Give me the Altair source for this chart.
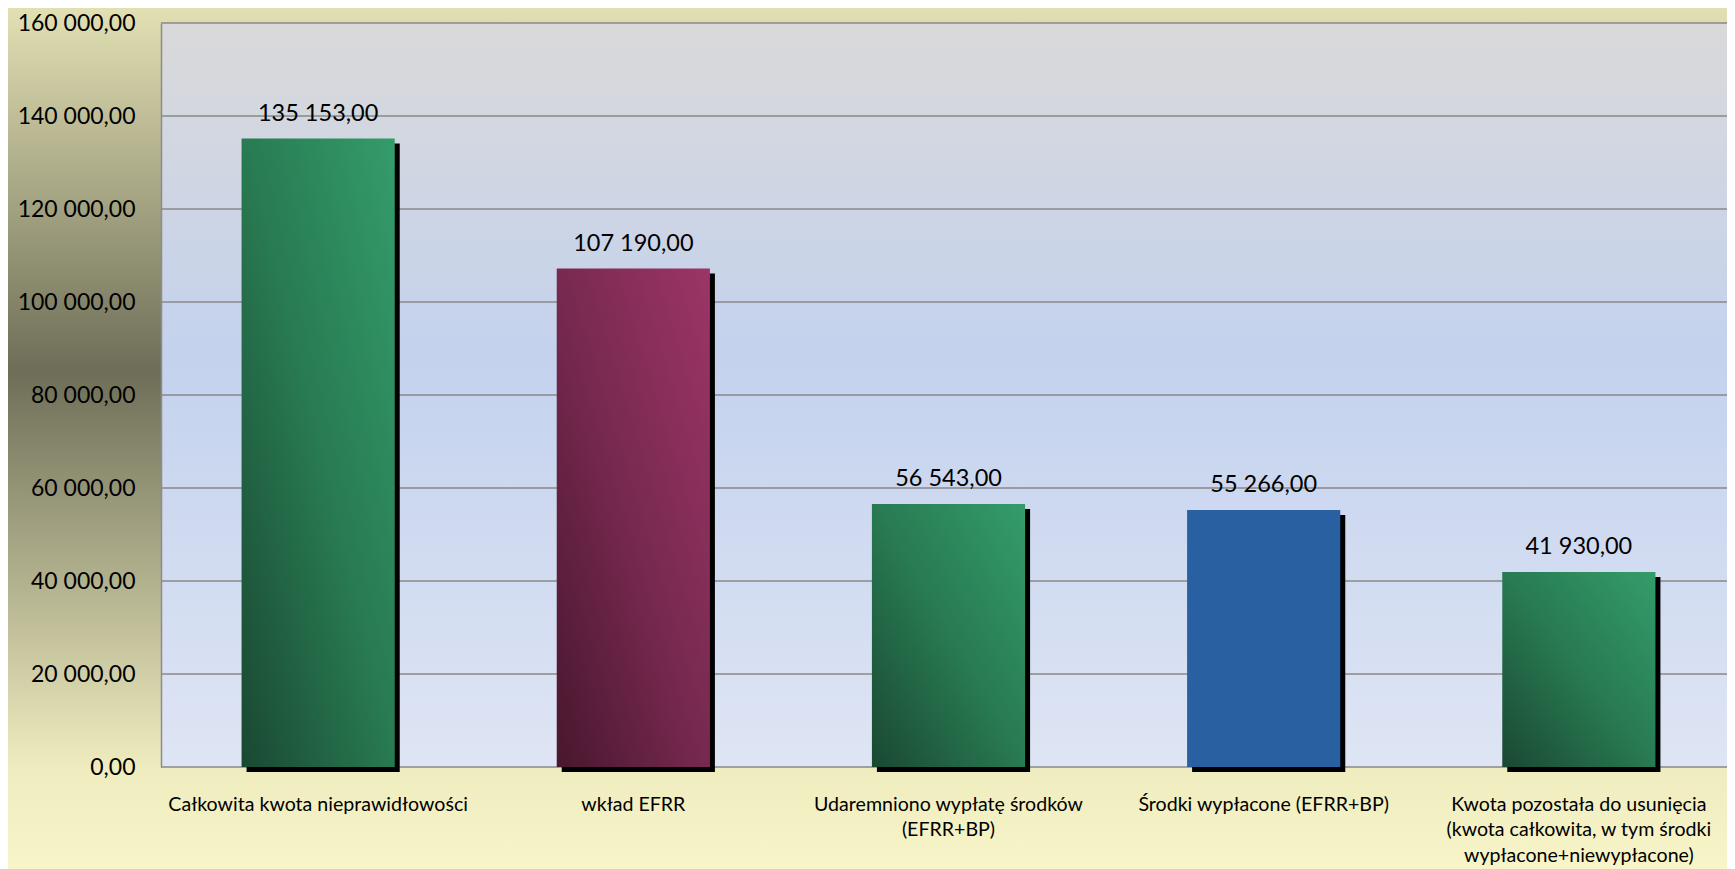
import altair as alt
import pandas as pd

# ---- data ----
categories = [
    "Całkowita kwota nieprawidłowości",
    "wkład EFRR",
    "Udaremniono wypłatę środków\n(EFRR+BP)",
    "Środki wypłacone (EFRR+BP)",
    "Kwota pozostała do usunięcia\n(kwota całkowita, w tym środki\nwypłacone+niewypłacone)",
]
values = [135153, 107190, 56543, 55266, 41930]
fill_keys = ["green", "purple", "green", "blue", "green"]
y_ticks = [0, 20000, 40000, 60000, 80000, 100000, 120000, 140000, 160000]

# ---- layout ----
W, H = 1566, 744
PAD_L, PAD_T, PAD_B = 153, 15, 106

df = pd.DataFrame({"category": categories, "value": values, "fill": fill_keys})
grid_df = pd.DataFrame({"value": y_ticks})
one = pd.DataFrame({"k": [0]})

fmt = "replace(replace(format(datum.value, ',.2f'), ',', ' '), '.', ',')"


def grad(stops, x1=0, y1=0, x2=0, y2=1):
    return alt.LinearGradient(
        gradient="linear",
        stops=[alt.GradientStop(offset=o, color=c) for o, c in stops],
        x1=x1, y1=y1, x2=x2, y2=y2,
    )


yscale = alt.Scale(domain=[0, 160000], nice=False)
xscale = alt.Scale(range=[0, 1575], paddingInner=0.514, paddingOuter=0.2556)

x_enc = alt.X(
    "category:N", sort=categories, scale=xscale,
    axis=alt.Axis(
        title=None, domain=False, ticks=False,
        labelExpr="split(datum.label, '\\n')",
        labelFont="Lato", labelFontSize=19.6, labelColor="black",
        labelLimit=0, labelOverlap=False, labelPadding=28,
        labelLineHeight=25.5, labelAngle=0, zindex=1,
    ),
)
y_enc = alt.Y(
    "value:Q", scale=yscale,
    axis=alt.Axis(
        title=None, values=y_ticks, grid=False, ticks=False,
        labelExpr=fmt, labelFont="Lato", labelFontSize=23, labelColor="black",
        labelPadding=26, domainColor="#8c8c8c", domainWidth=1.5, zindex=1,
    ),
)

outer_bg = alt.Chart(one).mark_rect(
    color=grad([(0, "#e2e0b3"), (0.42, "#6e6e58"), (0.88, "#efedbf"), (1, "#f8f6c9")])
).encode(
    x=alt.value(-PAD_L), x2=alt.value(W), y=alt.value(-PAD_T), y2=alt.value(H + PAD_B)
)

plot_bg = alt.Chart(one).mark_rect(
    color=grad([(0, "#d9d9d9"), (0.45, "#c4d2ee"), (1, "#dee5f4")])
).encode(
    x=alt.value(0), x2=alt.value(W), y=alt.value(0), y2=alt.value(H)
)

rules = alt.Chart(grid_df).mark_rule(color="#888888", strokeWidth=1.3).encode(y=y_enc)

base = alt.Chart(df)

shadow = base.mark_bar(color="black", xOffset=5, yOffset=5).encode(x=x_enc, y=y_enc)

green = base.transform_filter(alt.datum.fill == "green").mark_bar(
    color=grad([(0, "#1a4832"), (0.5, "#287a52"), (1, "#349c6b")], x1=0, y1=1, x2=1, y2=0)
).encode(x=x_enc, y=y_enc)

purple = base.transform_filter(alt.datum.fill == "purple").mark_bar(
    color=grad([(0, "#48172e"), (0.5, "#78294f"), (1, "#9c3567")], x1=0, y1=1, x2=1, y2=0)
).encode(x=x_enc, y=y_enc)

blue = base.transform_filter(alt.datum.fill == "blue").mark_bar(
    color="#2860a2"
).encode(x=x_enc, y=y_enc)

labels = base.transform_calculate(lbl=fmt).mark_text(
    font="Lato", fontSize=23.5, color="black", dy=-18, baseline="alphabetic"
).encode(x=x_enc, y=y_enc, text="lbl:N")

chart = alt.layer(
    outer_bg, plot_bg, rules, shadow, green, purple, blue, labels
).properties(
    width=W, height=H,
    autosize=alt.AutoSizeParams(type="none"),
    padding={"left": PAD_L, "top": PAD_T, "right": 0, "bottom": PAD_B},
).configure_view(strokeWidth=0)

chart.save("out.html", embed_options={"renderer": "svg", "actions": False})
